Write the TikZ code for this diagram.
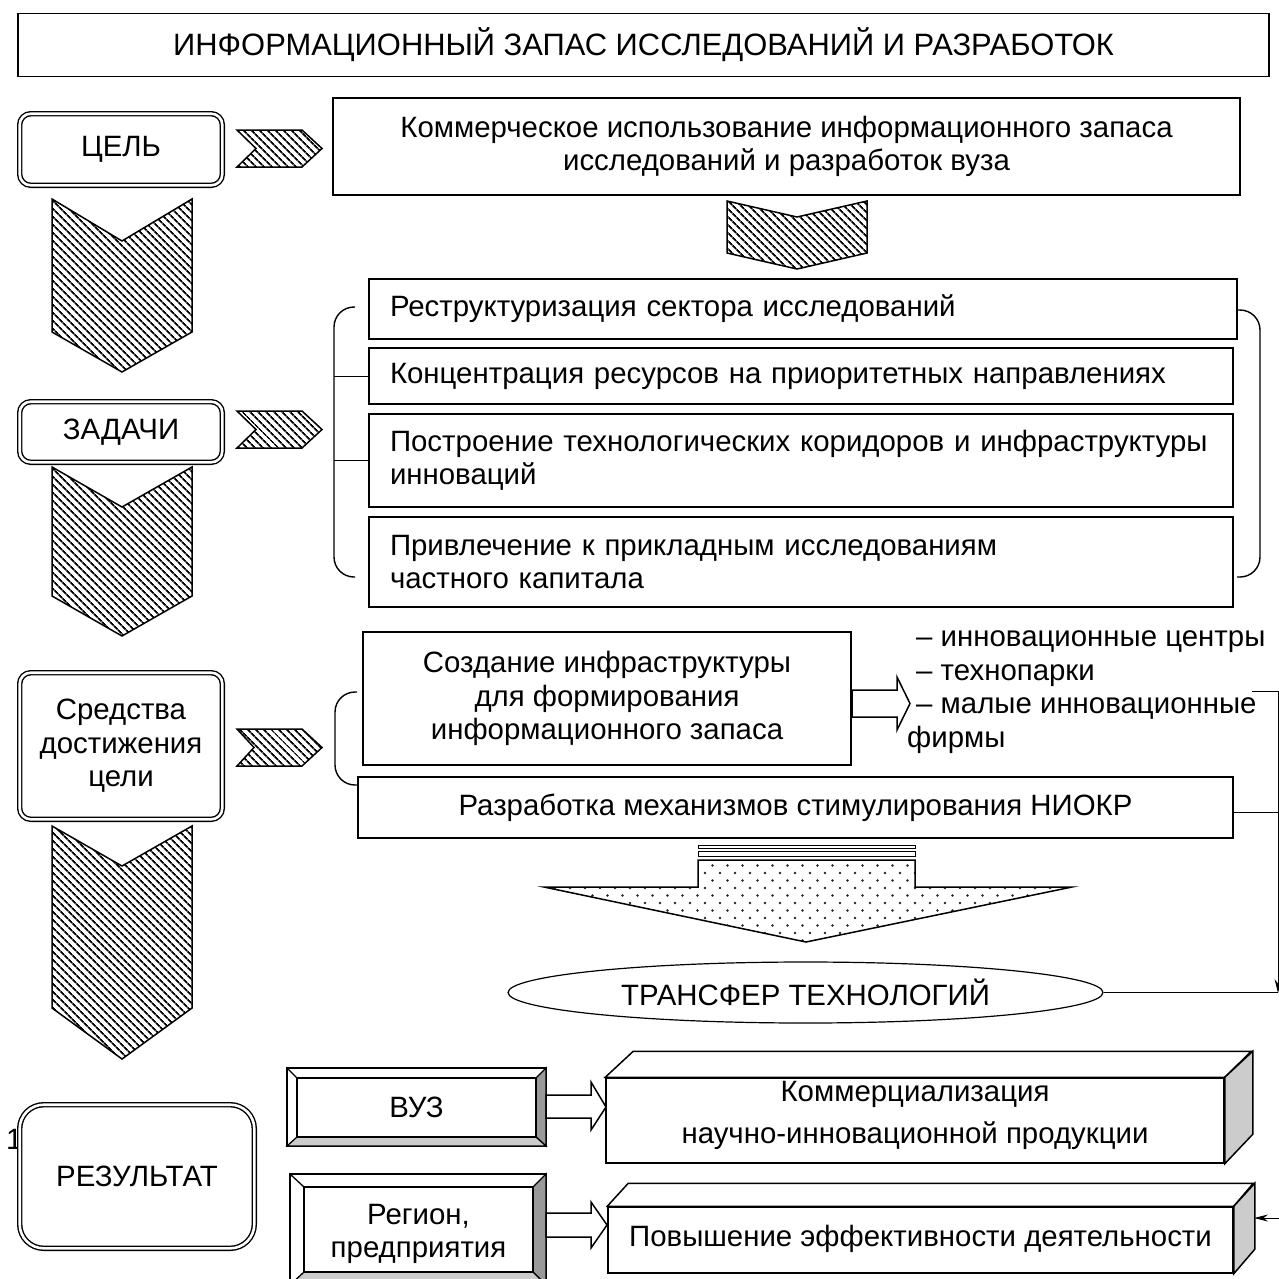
\documentclass[tikz,border=0pt]{standalone}
\usepackage{fontspec}
\setmainfont{Liberation Sans}
\usetikzlibrary{patterns.meta,shapes.geometric,arrows.meta}
\begin{document}
\begin{tikzpicture}[x=1pt,y=-1pt,
  txt/.style={font=\fontsize{29.4}{33.5}\selectfont},
  box/.style={txt,draw,line width=1.5pt,fill=white,inner sep=0pt,align=center},
  lbox/.style={box,align=left,inner xsep=21pt},
  tag/.style={txt,draw,line width=1.4pt,double,double distance=2.6pt,rounded corners=11pt,fill=white,inner sep=0pt,align=center},
  hatch/.style={draw,line width=1.5pt,line join=miter,pattern={Lines[angle=-45,distance=5.4pt,line width=1.9pt]}},
  dotty/.style={pattern={Dots[distance=15pt,radius=1.4pt]},pattern color=black!85},
  dotty2/.style={pattern={Dots[distance=15pt,radius=1.4pt,xshift=7.5pt,yshift=7.5pt]},pattern color=black!85},
  hollow/.style={draw,line width=1.5pt,fill=white,line join=miter},
  wire/.style={line width=1pt},
  brace/.style={line width=1.4pt,rounded corners=20pt},
  bev/.style={draw,line width=1.3pt},
]
\useasboundingbox (0,0) rectangle (1279,1278);
\clip (0,0) rectangle (1279,1278);

% title
\node[box,font=\fontsize{30.9}{34}\selectfont,minimum width=1251pt,minimum height=63pt] (top) at (643.5,45)
  {ИНФОРМАЦИОННЫЙ ЗАПАС ИССЛЕДОВАНИЙ И РАЗРАБОТОК};

% left column of stages
\node[tag,minimum width=202.6pt,minimum height=71.6pt] (cel) at (121,149.5) {ЦЕЛЬ};
\node[tag,minimum width=202.6pt,minimum height=60.6pt] (zad) at (121,432) {ЗАДАЧИ};
\node[tag,minimum width=202.6pt,minimum height=146.6pt] (sred) at (121,746) {Средства\\достижения\\цели};
\node[txt,anchor=west,inner sep=0pt] (one) at (6,1139) {1};
\node[tag,rounded corners=24pt,minimum width=234.6pt,minimum height=143.6pt] (res) at (137,1176.5) {РЕЗУЛЬТАТ};

% large downward chevrons
\path[hatch] (52,199) -- (122,241) -- (192,199) -- (192,332) -- (122,372) -- (52,332) -- cycle;
\path[hatch] (52,467) -- (122,507) -- (192,467) -- (192,596) -- (122,636) -- (52,596) -- cycle;
\path[hatch] (52,826) -- (122,866) -- (192,826) -- (192,1008) -- (122,1059) -- (52,1008) -- cycle;

% small rightward chevrons
\path[hatch] (237,130) -- (302,130) -- (322,148.5) -- (302,167) -- (237,167) -- (256,148.5) -- cycle;
\path[hatch] (237,411) -- (302,411) -- (322,429.5) -- (302,448) -- (237,448) -- (256,429.5) -- cycle;
\path[hatch] (237,729) -- (302,729) -- (322,747.5) -- (302,766) -- (237,766) -- (254,747.5) -- cycle;

% goal
\node[box,minimum width=907pt,minimum height=97pt] (goal) at (786.5,146.5)
  {Коммерческое использование информационного запаса\\исследований и разработок вуза};
\path[hatch] (727,201) -- (797,217) -- (867,201) -- (867,253) -- (797,269) -- (727,253) -- cycle;

% tasks
\node[lbox,text width=826pt,minimum height=60pt] (t1) at (803,309) {Реструктуризация сектора исследований};
\node[lbox,text width=822pt,minimum height=56pt] (t2) at (801,376) {Концентрация ресурсов на приоритетных направлениях};
\node[lbox,text width=822pt,minimum height=93pt] (t3) at (801,460.5) {Построение технологических коридоров и инфраструктуры\\инноваций};
\node[lbox,text width=822pt,minimum height=90pt] (t4) at (801,562) {Привлечение к прикладным исследованиям\\частного капитала};
\draw[brace] (355,307) -- (334,307) -- (334,577) -- (355,577);
\draw[brace] (1237,310) -- (1260,310) -- (1260,577) -- (1237,577);
\draw[wire] (334,376) -- (t2.west);
\draw[wire] (334,460.5) -- (t3.west);

% means
\node[box,minimum width=488pt,minimum height=133pt] (cre) at (607,698.5)
  {Создание инфраструктуры\\для формирования\\информационного запаса};
\node[box,minimum width=875pt,minimum height=61pt] (niokr) at (795.5,807.5)
  {Разработка механизмов стимулирования НИОКР};
\draw[brace] (357,692) -- (335,692) -- (335,785) -- (357,785);
\path[hollow] (852,690) -- (897,690) -- (897,677) -- (910,703.5) -- (897,730) -- (897,717) -- (852,717) -- cycle;
\node[txt,align=left,anchor=west,inner sep=0pt] (list) at (907,692)
  {\hspace*{9pt}– инновационные центры\\\hspace*{9pt}– технопарки\\\hspace*{9pt}– малые инновационные\\фирмы};

% transfer arrow
\path[dotty] (698,860) -- (915,860) -- (915,887) -- (1072,887) -- (806,942) -- (544,887) -- (698,887) -- cycle;
\path[dotty2] (698,860) -- (915,860) -- (915,887) -- (1072,887) -- (806,942) -- (544,887) -- (698,887) -- cycle;
\draw[line width=1.5pt,line join=miter] (698,887) -- (698,860) -- (915,860) -- (915,887) -- (1072,887) -- (806,942) -- (544,887) -- cycle;
\draw[line width=1pt] (698,845) rectangle (915,848.5);
\draw[line width=1pt,dotty] (698,851.5) rectangle (915,856);

\node[txt,draw,ellipse,line width=1.2pt,fill=white,minimum width=595pt,minimum height=61pt,inner sep=0pt] (tt) at (805.5,992.5) {ТРАНСФЕР ТЕХНОЛОГИЙ};

% right-hand feedback line
\coordinate (fb) at (1252,691);
\draw[wire,-{Stealth[length=14pt,width=7pt]}] (fb) -- (1278,691) -- (1278,993);
\draw[wire] ([yshift=-4.5pt]niokr.east) -- (1278,812);
\draw[wire] (tt.east) -- (1278,992.5);

% result: university
\path[bev,fill=white] (287,1068) rectangle (546,1146);
\path[bev,fill=black!40] (536,1078) -- (546,1068) -- (546,1146) -- (536,1137) -- cycle;
\path[bev,fill=black!20] (297,1137) -- (536,1137) -- (546,1146) -- (287,1146) -- cycle;
\draw[bev] (287,1068) -- (297,1078);
\node[box,minimum width=239pt,minimum height=59pt] (vuz) at (416.5,1107.5) {ВУЗ};

% result: region
\path[bev,fill=white] (290,1174) rectangle (546,1285);
\path[bev,fill=black!40] (533,1187) -- (546,1174) -- (546,1285) -- (533,1272) -- cycle;
\path[bev,fill=black!20] (304,1272) -- (533,1272) -- (546,1285) -- (290,1285) -- cycle;
\draw[bev] (290,1174) -- (304,1187);
\draw[line width=1.5pt,fill=white] (304,1187) rectangle (533,1272);
\node[txt,align=center,inner sep=0pt] (reg) at (418.5,1234) {Регион,\\предприятия};

% 3d boxes
\node[box,minimum width=618pt,minimum height=85pt] (kom) at (915,1120.5)
  {\parbox{600pt}{\centering Коммерциализация\\[8pt]научно-инновационной продукции\vspace*{10pt}}};
\draw[line width=1.5pt,fill=white,line join=miter] (kom.north west) -- ++(28,-26) -- ++(618,0) -- (kom.north east) -- cycle;
\draw[line width=1.5pt,fill=black!20,line join=miter] (kom.north east) -- ++(28,-26) -- ++(0,83) -- (kom.south east) -- cycle;

\node[box,minimum width=625pt,minimum height=66pt] (pov) at (920.5,1240)
  {\raisebox{8pt}{Повышение эффективности деятельности}};
\draw[line width=1.5pt,fill=white,line join=miter] (pov.north west) -- ++(21,-23) -- ++(625,0) -- (pov.north east) -- cycle;
\draw[line width=1.5pt,fill=black!20,line join=miter] (pov.north east) -- ++(21,-23) -- ++(0,66) -- (pov.south east) -- cycle;
\draw[wire,-{Stealth[length=14pt,width=7pt]}] (1290,1218) -- (1254,1218);

% hollow arrows to results
\path[hollow] (546,1095) -- (591,1095) -- (591,1082) -- (606,1107) -- (591,1130) -- (591,1118) -- (546,1118) -- cycle;
\path[hollow] (546,1213) -- (591,1213) -- (591,1202) -- (607,1225) -- (591,1248) -- (591,1237) -- (546,1237) -- cycle;
\end{tikzpicture}
\end{document}
